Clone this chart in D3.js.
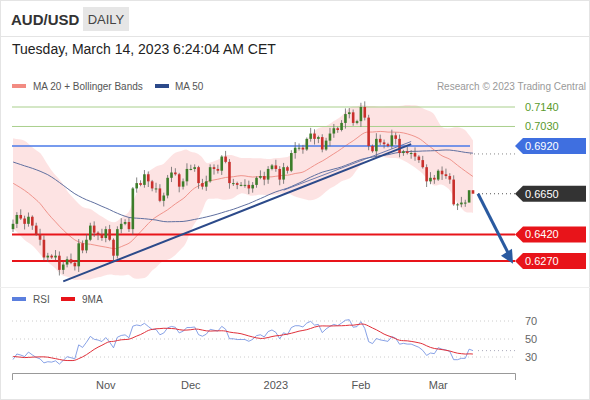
<!DOCTYPE html>
<html><head><meta charset="utf-8">
<script src="https://cdn.jsdelivr.net/npm/d3@7/dist/d3.min.js"></script>
<style>body{margin:0;background:#fff;font-family:"Liberation Sans",Arial,sans-serif}</style>
</head><body><svg id="c" width="590" height="400"></svg>
<script>
// Earlier closes (Aug-Sep 2022) used only to warm up the indicators
const preCloses=[0.6990,0.7010,0.7050,0.7030,0.7110,0.7090,0.7020,0.6940,0.6920,0.6910,0.6880,0.6860,0.6900,0.6930,0.6870,0.6860,0.6880,0.6920,0.6950,0.6870,0.6820,0.6790,0.6760,0.6780,0.6830,0.6840,0.6810,0.6770,0.6890,0.6850,0.6800,0.6740,0.6720,0.6690,0.6700,0.6620,0.6590,0.6560,0.6520,0.6450];
const closes=[0.6480,0.6530,0.6510,
0.6480,0.6520,0.6470,0.6420,0.6390,
0.6290,0.6300,0.6290,0.6300,0.6220,
0.6250,0.6280,0.6260,0.6240,0.6370,
0.6330,0.6390,0.6470,0.6430,0.6420,
0.6400,0.6450,0.6390,0.6300,0.6450,
0.6480,0.6490,0.6450,0.6680,0.6710,
0.6700,0.6760,0.6720,0.6680,0.6680,
0.6610,0.6640,0.6740,0.6770,0.6760,
0.6690,0.6720,0.6790,0.6790,0.6800,
0.6710,0.6690,0.6720,0.6800,0.6790,
0.6780,0.6860,0.6830,0.6710,0.6710,
0.6700,0.6700,0.6700,0.6680,0.6700,
0.6740,0.6750,0.6730,0.6790,0.6810,
0.6790,0.6730,0.6800,0.6780,0.6880,
0.6910,0.6910,0.6900,0.6960,0.6990,
0.6960,0.6970,0.6900,0.6950,0.6990,
0.7020,0.7010,0.7050,0.7100,0.7110,
0.7050,0.7060,0.7140,0.7080,0.6920,
0.6890,0.6960,0.6940,0.6930,0.6920,
0.6980,0.6960,0.6880,0.6890,0.6880,
0.6880,0.6860,0.6840,0.6800,0.6720,
0.6740,0.6730,0.6780,0.6760,0.6750,
0.6730,0.6590,0.6590,0.6600,0.6600,
0.6670,0.6650];
const wickUp="3242312432143224132423142312423142321432243124321342231423124321432142312432143122431243213421432142313241324213423142";
const wickDn="2314231423124321342213423142312431242314231423124231423142312432143124321423124321432143214231423124321432142314231423";
const months=[{label:"Nov",idx:24},{label:"Dec",idx:46},{label:"2023",idx:68},{label:"Feb",idx:90},{label:"Mar",idx:110}];
const levels=[{v:0.7140,type:"green"},{v:0.7030,type:"green"},{v:0.6920,type:"blue"},{v:0.6650,type:"dark"},{v:0.6420,type:"red"},{v:0.6270,type:"red"}];
const rsiTicks=[70,50,30];

const svg=d3.select("#c");
const N=closes.length;
const x=d3.scaleLinear().domain([0,N-1]).range([13,473]);
const y=d3.scaleLinear().domain([0.627,0.714]).range([261,107]);
const ry=d3.scaleLinear().domain([30,70]).range([357,321]);

const all=preCloses.concat(closes), P=preCloses.length;
function sma(i,n){let a=all.slice(i-n+1,i+1);return d3.mean(a);}
function sd(i,n){return d3.deviation(all.slice(i-n+1,i+1))*Math.sqrt((n-1)/n);}
const ind=closes.map((c,k)=>{const i=k+P;const m=sma(i,20),s=sd(i,20);return {k,m20:m,up:m+2*s,lo:m-2*s,m50:d3.mean(all.slice(Math.max(0,i-49),i+1))};});
// RSI 14 Wilder
let ag=0,al=0;const rsiAll=[];
for(let i=1;i<all.length;i++){const d=all[i]-all[i-1];const g=Math.max(d,0),l=Math.max(-d,0);
 if(i<=14){ag+=g/14;al+=l/14;}else{ag=(ag*13+g)/14;al=(al*13+l)/14;}
 rsiAll[i]=i>=14?100-100/(1+ag/(al||1e-9)):null;}
const rsi=closes.map((c,k)=>rsiAll[k+P]);
const rsiMa=closes.map((c,k)=>d3.mean(rsiAll.slice(k+P-8,k+P+1)));

// frame
svg.append("rect").attr("x",0.5).attr("y",0.5).attr("width",589).attr("height",399).attr("fill","none").attr("stroke","#e4e4e4");
svg.append("line").attr("x1",0).attr("x2",590).attr("y1",36.5).attr("y2",36.5).attr("stroke","#e4e4e4");
svg.append("line").attr("x1",0).attr("x2",590).attr("y1",287.5).attr("y2",287.5).attr("stroke","#eee");
svg.append("text").attr("x",11).attr("y",25).attr("font-size",15).attr("font-weight","bold").attr("fill","#333").text("AUD/USD");
svg.append("rect").attr("x",83).attr("y",7).attr("width",46).attr("height",24).attr("fill","#e6e6e6");
svg.append("text").attr("x",106).attr("y",24).attr("text-anchor","middle").attr("font-size",13).attr("fill","#444").text("DAILY");
svg.append("text").attr("x",12).attr("y",54).attr("font-size",14).attr("fill","#222").text("Tuesday, March 14, 2023 6:24:04 AM CET");
// legend
svg.append("rect").attr("x",12).attr("y",84).attr("width",14).attr("height",4).attr("fill","#f28b82");
svg.append("text").attr("x",33).attr("y",90).attr("font-size",10).attr("fill","#555").text("MA 20 + Bollinger Bands");
svg.append("rect").attr("x",155).attr("y",84).attr("width",14).attr("height",4).attr("fill","#2c4a8a");
svg.append("text").attr("x",175).attr("y",90).attr("font-size",10).attr("fill","#555").text("MA 50");
svg.append("text").attr("x",586).attr("y",90).attr("text-anchor","end").attr("font-size",10).attr("fill","#999").text("Research © 2023 Trading Central");

// bollinger
svg.append("path").datum(ind).attr("fill","#fcdcdc").attr("opacity",0.8)
 .attr("d",d3.area().x(d=>x(d.k)).y0(d=>y(d.lo)).y1(d=>y(d.up)).curve(d3.curveBasis));
svg.append("path").datum(ind).attr("fill","none").attr("stroke","#f0948c").attr("stroke-width",1)
 .attr("d",d3.line().x(d=>x(d.k)).y(d=>y(d.m20)).curve(d3.curveBasis));
svg.append("path").datum(ind).attr("fill","none").attr("stroke","#6070a0").attr("stroke-width",1)
 .attr("d",d3.line().x(d=>x(d.k)).y(d=>y(d.m50)).curve(d3.curveBasis));

// levels
const colors={green:"#8fbf6a",blue:"#3f6fe0",dark:"#333",red:"#e8141a"};
levels.forEach(l=>{
 const yy=y(l.v);
 if(l.type==="green"){svg.append("line").attr("x1",12).attr("x2",515).attr("y1",yy).attr("y2",yy).attr("stroke","#a9cf8c").attr("stroke-width",1);
  svg.append("text").attr("x",525).attr("y",yy+4).attr("font-size",11).attr("fill","#5a9a2c").text(l.v.toFixed(4));return;}
 if(l.type==="blue"){svg.append("line").attr("x1",12).attr("x2",470).attr("y1",yy).attr("y2",yy).attr("stroke","#4a7ae8").attr("stroke-width",1.5);
  svg.append("line").attr("x1",470).attr("x2",515).attr("y1",yy+8).attr("y2",yy+8).attr("stroke","#888").attr("stroke-dasharray","1,3");}
 if(l.type==="dark"){svg.append("line").attr("x1",478).attr("x2",515).attr("y1",yy).attr("y2",yy).attr("stroke","#555").attr("stroke-dasharray","1,3");}
 if(l.type==="red"){svg.append("line").attr("x1",12).attr("x2",515).attr("y1",yy).attr("y2",yy).attr("stroke","#e8141a").attr("stroke-width",2);}
 svg.append("path").attr("d",`M515,${yy}L523,${yy-8}H586V${yy+8}H523Z`).attr("fill",colors[l.type]);
 svg.append("text").attr("x",525).attr("y",yy+4).attr("font-size",11).attr("fill","#fff").text(l.v.toFixed(4));
});

// candles
const bw=2.6;
closes.forEach((c,k)=>{
 const o=k===0?0.6450:closes[k-1];
 const hi=Math.max(o,c)+(+wickUp[k])*0.0008, lo=Math.min(o,c)-(+wickDn[k])*0.0008;
 const col=c>=o?"#3c7d2a":"#c9302c";
 svg.append("line").attr("x1",x(k)).attr("x2",x(k)).attr("y1",y(hi)).attr("y2",y(lo)).attr("stroke","#666").attr("stroke-width",0.8);
 svg.append("rect").attr("x",x(k)-bw/2).attr("width",bw).attr("y",y(Math.max(o,c))).attr("height",Math.max(1,Math.abs(y(o)-y(c)))).attr("fill",col);
});

// trendline (support from Oct low to Feb)
svg.append("line").attr("x1",x(13)).attr("y1",y(0.6155)).attr("x2",x(103)).attr("y2",y(0.6930)).attr("stroke","#2c4a8a").attr("stroke-width",2);
svg.append("line").attr("x1",x(70)).attr("y1",y(0.6670)).attr("x2",x(103)).attr("y2",y(0.6945)).attr("stroke","#4a62a0").attr("stroke-width",0.8);
// arrow
const ax1=478,ay1=y(0.6650),ax2=513,ay2=y(0.6255);
svg.append("line").attr("x1",ax1).attr("y1",ay1).attr("x2",ax2-3).attr("y2",ay2-7).attr("stroke","#2a5aa0").attr("stroke-width",3);
svg.append("path").attr("d",`M${ax2},${ay2}L${ax2-12},${ay2-8}L${ax2-1},${ay2-15}Z`).attr("fill","#2a5aa0");

// RSI panel
svg.append("rect").attr("x",12).attr("y",297).attr("width",14).attr("height",4).attr("fill","#5b7fde");
svg.append("text").attr("x",33).attr("y",303).attr("font-size",10).attr("fill","#555").text("RSI");
svg.append("rect").attr("x",61).attr("y",297).attr("width",14).attr("height",4).attr("fill","#e8141a");
svg.append("text").attr("x",82).attr("y",303).attr("font-size",10).attr("fill","#555").text("9MA");
rsiTicks.forEach(t=>{svg.append("line").attr("x1",12).attr("x2",515).attr("y1",ry(t)).attr("y2",ry(t)).attr("stroke","#ccc").attr("stroke-dasharray","1,3");
 svg.append("text").attr("x",525).attr("y",ry(t)+4).attr("font-size",11).attr("fill","#666").text(t);});
svg.append("line").attr("x1",478).attr("x2",515).attr("y1",ry(rsi[N-1])).attr("y2",ry(rsi[N-1])).attr("stroke","#aab").attr("stroke-dasharray","1,3");
svg.append("path").datum(rsi).attr("fill","none").attr("stroke","#6a8ae0").attr("stroke-width",0.8).attr("d",d3.line().x((d,i)=>x(i)).y(d=>ry(d)));
svg.append("path").datum(rsiMa).attr("fill","none").attr("stroke","#e0303a").attr("stroke-width",1).attr("d",d3.line().x((d,i)=>x(i)).y(d=>ry(d)).curve(d3.curveBasis));

// axis
svg.append("path").attr("d","M12.5,380V373.5H515.5V380").attr("fill","none").attr("stroke","#999");
months.forEach(m=>svg.append("text").attr("x",x(m.idx)).attr("y",389).attr("text-anchor","middle").attr("font-size",11).attr("fill","#555").text(m.label));
</script></body></html>
